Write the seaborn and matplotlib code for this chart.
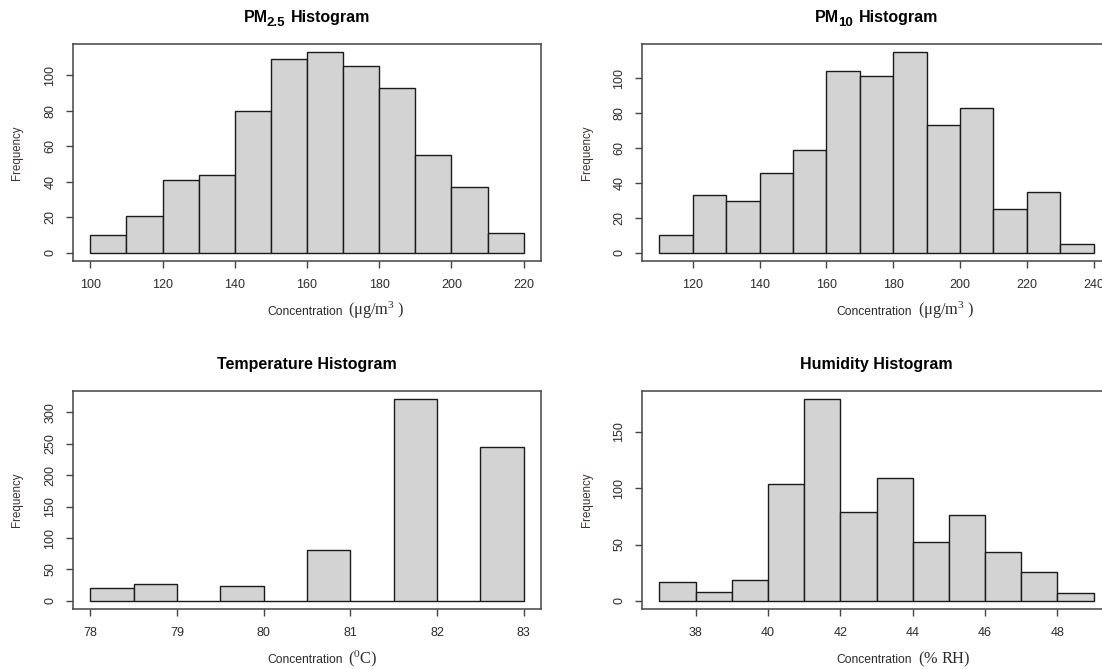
import numpy as np
import pandas as pd
import matplotlib
matplotlib.use("Agg")
import matplotlib.pyplot as plt
import seaborn as sns

# Histogram bin edges and counts
pm25_edges = [100, 110, 120, 130, 140, 150, 160, 170, 180, 190, 200, 210, 220]
pm25_counts = [10, 21, 41, 44, 80, 109, 113, 105, 93, 55, 37, 11]

pm10_edges = [110, 120, 130, 140, 150, 160, 170, 180, 190, 200, 210, 220, 230, 240]
pm10_counts = [10, 33, 30, 46, 59, 104, 101, 115, 73, 83, 25, 35, 5]

temp_edges = [78.0, 78.5, 79.0, 79.5, 80.0, 80.5, 81.0, 81.5, 82.0, 82.5, 83.0]
temp_counts = [21, 27, 0, 24, 0, 81, 0, 321, 0, 245]

hum_edges = [37, 38, 39, 40, 41, 42, 43, 44, 45, 46, 47, 48, 49]
hum_counts = [17, 8, 19, 104, 179, 79, 109, 52, 76, 43, 26, 7]

pm25_xticks = [100, 120, 140, 160, 180, 200, 220]
pm10_xticks = [120, 140, 160, 180, 200, 220, 240]
temp_xticks = [78, 79, 80, 81, 82, 83]
hum_xticks = [38, 40, 42, 44, 46, 48]

pm25_yticks = [0, 20, 40, 60, 80, 100]
pm10_yticks = [0, 20, 40, 60, 80, 100]
temp_yticks = [0, 50, 100, 150, 200, 250, 300]
hum_yticks = [0, 50, 100, 150]

sns.set_theme(style="white")
plt.rcParams['font.family'] = ['Liberation Sans', 'DejaVu Sans']
plt.rcParams['mathtext.fontset'] = 'custom'
plt.rcParams['mathtext.rm'] = 'Liberation Serif'
plt.rcParams['mathtext.it'] = 'Liberation Serif:italic'
plt.rcParams['mathtext.bf'] = 'Liberation Serif:bold'

TEXT = '#2b2b2b'
EDGE = '#444444'

fig = plt.figure(figsize=(11.02, 6.69), dpi=100)
renderer = fig.canvas.get_renderer()

W, H = 1102, 669
def px_axes(x0, y0, x1, y1):
    # pixel box -> figure fraction
    return fig.add_axes([x0 / W, 1 - y1 / H, (x1 - x0) / W, (y1 - y0) / H])

def put_pieces(x_px, base_px, pieces, align='center'):
    # pieces: (text, kwargs, dy_px, gap_before_px); laid out left to right on one baseline
    arts, widths = [], []
    for txt, kw, dy, gap in pieces:
        t = fig.text(0, 0, txt, va='baseline', ha='left', **kw)
        arts.append(t)
        widths.append(t.get_window_extent(renderer).width)
    total = sum(widths) + sum(p[3] for p in pieces)
    x = x_px - total / 2 if align == 'center' else x_px
    for t, w, (txt, kw, dy, gap) in zip(arts, widths, pieces):
        x += gap
        t.set_position((x / W, 1 - (base_px + dy) / H))
        x += w

bold_t = dict(fontsize=11.5, fontweight='bold', color='black')
bold_s = dict(fontsize=9.5, fontweight='bold', color='black')
sans_l = dict(fontsize=8.7, color=TEXT)
serif_l = dict(fontsize=11.8, color=TEXT)

panels = [
    (px_axes(73, 44, 541, 261), pm25_edges, pm25_counts, pm25_xticks, pm25_yticks,
     [("PM", bold_t, 0, 0), ("2.5", bold_s, 4, -1), ("Histogram", bold_t, 0, 6)],
     r"$(\mathrm{\mu g/m^3}\ )$"),
    (px_axes(642, 44, 1111, 261), pm10_edges, pm10_counts, pm10_xticks, pm10_yticks,
     [("PM", bold_t, 0, 0), ("10", bold_s, 4, -1), ("Histogram", bold_t, 0, 6)],
     r"$(\mathrm{\mu g/m^3}\ )$"),
    (px_axes(73, 391, 541, 609), temp_edges, temp_counts, temp_xticks, temp_yticks,
     [("Temperature Histogram", bold_t, 0, 0)],
     r"$(^{0}\mathrm{C})$"),
    (px_axes(642, 391, 1111, 609), hum_edges, hum_counts, hum_xticks, hum_yticks,
     [("Humidity Histogram", bold_t, 0, 0)],
     r"$(\%\ \mathrm{RH})$"),
]

for ax, edges, counts, xt, yt, title_parts, unit in panels:
    e = np.array(edges, dtype=float)
    df = pd.DataFrame({"value": (e[:-1] + e[1:]) / 2, "count": counts})
    sns.histplot(data=df, x="value", weights="count", bins=list(edges), ax=ax,
                 color='#D3D3D3', edgecolor='#1a1a1a', linewidth=1.0, alpha=1)
    # R-style 4% padding around the data range
    span = e[-1] - e[0]
    ax.set_xlim(e[0] - 0.04 * span, e[-1] + 0.04 * span)
    top = max(counts)
    ax.set_ylim(-0.04 * top, 1.04 * top)
    ax.set_xticks(xt)
    ax.set_xticklabels([str(v) for v in xt])
    ax.set_yticks(yt)
    ax.set_yticklabels([str(v) for v in yt], rotation=90, va='center')
    ax.tick_params(axis='both', which='both', direction='out', length=5, width=1,
                   color=EDGE, labelsize=9, labelcolor=TEXT, bottom=True, left=True)
    ax.tick_params(axis='x', pad=8)
    ax.tick_params(axis='y', pad=7)
    for s in ax.spines.values():
        s.set_visible(True)
        s.set_color(EDGE)
        s.set_linewidth(1.1)
    ax.set_xlabel("")
    ax.set_ylabel("Frequency", fontsize=8.3, color='#3d3030', labelpad=15)

    # title and x label drawn as pieces so the sub/superscripts match the R look
    bb = ax.get_position()
    cx = (bb.x0 + bb.x1) / 2 * W
    top_px = (1 - bb.y1) * H
    bot_px = (1 - bb.y0) * H
    put_pieces(cx, top_px - 22, title_parts)
    put_pieces(cx - 40, bot_px + 54, [("Concentration", sans_l, 0, 0), (unit, serif_l, 0, 6)],
               align='left')

fig.savefig("out.png", dpi=100)
